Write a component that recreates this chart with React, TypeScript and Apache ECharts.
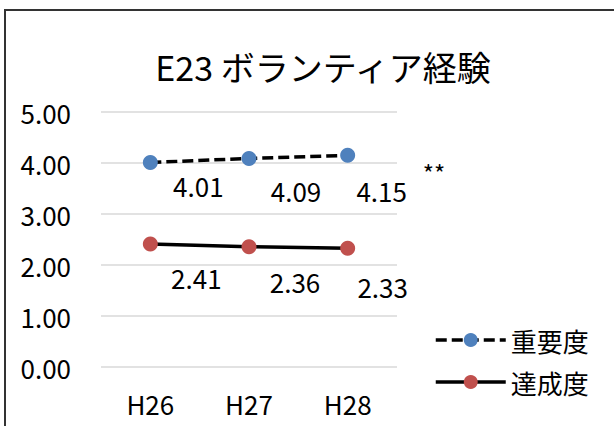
import { useEffect, useRef } from "react";
import * as echarts from "echarts";

// Survey item E23: importance vs. achievement by fiscal year
const years = ["H26", "H27", "H28"];
const importance = [4.01, 4.09, 4.15];
const achievement = [2.41, 2.36, 2.33];
const seriesNames = ["重要度", "達成度"];
const titleText = "E23 ボランティア経験";
const significanceMark = "**";

const FONT = "'Noto Sans CJK JP', sans-serif";

// Hand-placed value labels, offset from each marker's centre
const importanceLabelShift = [
  [48, 23],
  [47, 32],
  [34, 35],
];
const achievementLabelShift = [
  [46, 33],
  [46, 35],
  [35, 38],
];

export default function App() {
  const ref = useRef<HTMLDivElement>(null);

  useEffect(() => {
    if (!ref.current) return;
    const chart = echarts.init(ref.current, undefined, { renderer: "svg" });

    const labelBase = {
      show: true,
      position: "inside" as const,
      color: "#000",
      fontFamily: FONT,
      fontSize: 26,
      formatter: (p: any) => Number(p.value).toFixed(2),
    };

    chart.setOption({
      animation: false,
      backgroundColor: "#fff",
      title: {
        text: titleText,
        left: 318,
        top: 44,
        textAlign: "center",
        textStyle: {
          fontFamily: FONT,
          fontSize: 34,
          fontWeight: "normal",
          color: "#000",
        },
      },
      grid: { left: 101, right: 217, top: 112, bottom: 59 },
      legend: {
        orient: "vertical",
        left: 429,
        top: 322,
        itemWidth: 70,
        itemHeight: 17.5,
        itemGap: 16,
        lineStyle: { width: 3.5 },
        textStyle: { fontFamily: FONT, fontSize: 26, color: "#000" },
        data: seriesNames,
      },
      xAxis: {
        type: "category",
        data: years,
        boundaryGap: true,
        axisLine: { show: false },
        axisTick: { show: false },
        axisLabel: { margin: 23, fontFamily: FONT, fontSize: 26, color: "#000" },
      },
      yAxis: {
        type: "value",
        min: 0,
        max: 5,
        interval: 1,
        axisLine: { show: false },
        axisTick: { show: false },
        axisLabel: {
          margin: 30,
          fontFamily: FONT,
          fontSize: 26,
          color: "#000",
          formatter: (v: number) => v.toFixed(2),
        },
        splitLine: { lineStyle: { color: "#d9d9d9", width: 1.5 } },
      },
      series: [
        {
          name: seriesNames[0],
          type: "line",
          symbol: "circle",
          symbolSize: 15,
          itemStyle: { color: "#4f81bd" },
          lineStyle: { color: "#000", width: 3.5, type: [11, 5] },
          data: importance.map((v, i) => ({
            value: v,
            label: { ...labelBase, offset: importanceLabelShift[i] },
          })),
          z: 3,
        },
        {
          name: seriesNames[1],
          type: "line",
          symbol: "circle",
          symbolSize: 15,
          itemStyle: { color: "#c0504d" },
          lineStyle: { color: "#000", width: 3.5, type: "solid" },
          data: achievement.map((v, i) => ({
            value: v,
            label: { ...labelBase, offset: achievementLabelShift[i] },
          })),
          z: 3,
        },
      ],
      graphic: [
        {
          type: "rect",
          silent: true,
          shape: { x: 5, y: 10, width: 640, height: 440 },
          style: { fill: "none", stroke: "#333", lineWidth: 2 },
        },
        {
          type: "text",
          silent: true,
          x: 434,
          y: 172,
          style: {
            text: significanceMark,
            fontFamily: FONT,
            fontSize: 24,
            fill: "#000",
            align: "center",
            verticalAlign: "middle",
          },
        },
      ],
    });

    return () => chart.dispose();
  }, []);

  return (
    <div
      ref={ref}
      style={{ position: "fixed", left: 0, top: 0, width: 614, height: 426 }}
    />
  );
}
